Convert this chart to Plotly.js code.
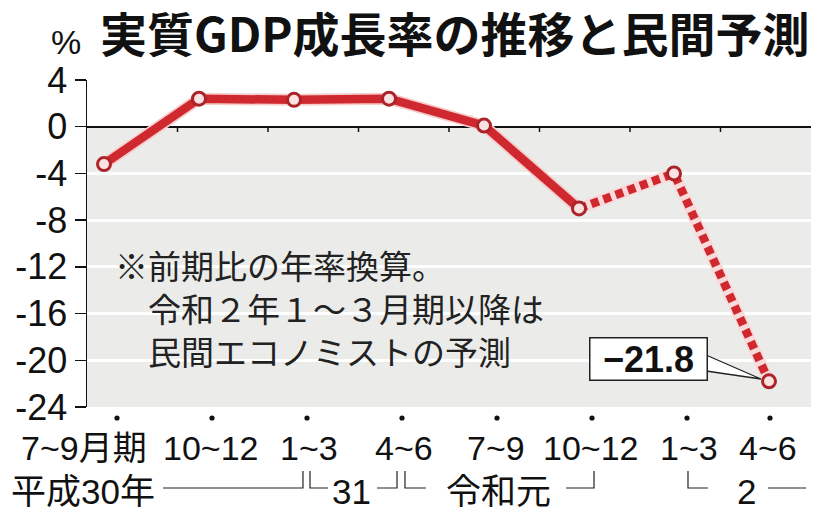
<!DOCTYPE html>
<html><head><meta charset="utf-8">
<script src="https://cdn.plot.ly/plotly-3.0.1.min.js"></script>
<style>html,body{margin:0;padding:0;background:#fff}</style>
</head><body><div id="chart" style="width:831px;height:515px"></div>
<script>
// ---- data ----
const quarters = ['2018Q3','2018Q4','2019Q1','2019Q2','2019Q3','2019Q4','2020Q1','2020Q2'];
const quarterLabels = ['7~9月期','10~12','1~3','4~6','7~9','10~12','1~3','4~6'];
const actualGrowth = [-3.2, 2.4, 2.3, 2.4, 0.1, -7.0, null, null];
const forecastGrowth = [null, null, null, null, null, -7.0, -4.0, -21.8];
const eraLabels = ['平成30年','31','令和元','2'];
const yTickVals = [4, 0, -4, -8, -12, -16, -20, -24];
const yTickText = ['4', '0', '-4', '-8', '-12', '-16', '-20', '-24'];
const calloutText = '−21.8';
const titleText = '実質GDP成長率の推移と民間予測';
const unitText = '%';
const noteText = '※前期比の年率換算。<br>　令和２年１～３月期以降は<br>　民間エコノミストの予測';

// ---- layout geometry (pixels) ----
const W = 831, H = 515, L = 87, R = 811, T = 80, B = 407;
const px = x => (x - L) / (R - L);
const py = y => (B - y) / (B - T);
const pathOf = pts => pts.map((p, i) => (i ? 'L' : 'M') + px(p[0]).toFixed(4) + ',' + py(p[1]).toFixed(4)).join(' ');

const dotShift = [13, 13, 13, 13, 13, 13, 13, 1];
const labelShift = [-20, 12, 15, 15, 12, 12, 15, -1];
const eraX = [83, 351, 498, 746];
const bracketPaths = [
  [[163,488],[303,488],[303,471]],
  [[310,471],[310,488],[328,488]],
  [[377,488],[397,488],[397,471]],
  [[405,471],[405,488],[426,488]],
  [[566,488],[594,488],[594,471]],
  [[688,471],[688,488],[708,488]],
  [[768,488],[806,488]]
];

const RED = '#cf282e';
const markerValues = actualGrowth.map((v, i) => v !== null ? v : forecastGrowth[i]);

const traces = [
  {x: quarters, y: actualGrowth, mode: 'lines', line: {color: '#f6cccc', width: 12}, hoverinfo: 'skip'},
  {x: quarters, y: forecastGrowth, mode: 'lines', line: {color: '#f8dada', width: 12}, hoverinfo: 'skip'},
  {x: quarters, y: actualGrowth, mode: 'lines', line: {color: RED, width: 8.5}, hoverinfo: 'skip'},
  {x: quarters, y: forecastGrowth, mode: 'lines', line: {color: RED, width: 8.5, dash: '8px,5px'}, hoverinfo: 'skip'},
  {x: quarters, y: markerValues, mode: 'markers', hoverinfo: 'skip',
   marker: {symbol: 'circle', size: 13, color: '#fbe2e2', line: {color: '#ad232a', width: 3}}}
];

const shapes = [
  {type: 'rect', xref: 'paper', yref: 'y', x0: 0, x1: 1, y0: 0, y1: -24,
   fillcolor: '#ebecea', line: {width: 0}, layer: 'below'}
];
for (let k = 1; k < 8; k++) {
  shapes.push({type: 'line', xref: 'paper', yref: 'y', x0: k / 8, x1: k / 8, y0: 0, y1: -0.45,
    line: {color: '#111', width: 1.5}, layer: 'between'});
}
quarters.forEach((q, i) => shapes.push({type: 'circle', xref: 'x', xsizemode: 'pixel', xanchor: i,
  x0: dotShift[i] - 2.6, x1: dotShift[i] + 2.6, yref: 'paper', ysizemode: 'pixel', yanchor: py(418),
  y0: -2.6, y1: 2.6, fillcolor: '#111', line: {width: 0}, layer: 'above'}));
bracketPaths.forEach(p => shapes.push({type: 'path', xref: 'paper', yref: 'paper', path: pathOf(p),
  line: {color: '#222', width: 1.2}, layer: 'above'}));
shapes.push({type: 'path', xref: 'paper', yref: 'paper',
  path: pathOf([[706,355],[761,379],[706,371]]), fillcolor: '#ffffff',
  line: {color: '#222', width: 1.3}, layer: 'above'});

const LAT = 'Liberation Sans, Arial, Noto Sans CJK JP, sans-serif';
const annotations = [];
quarters.forEach((q, i) => {
  annotations.push({x: q, xref: 'x', y: py(448), yref: 'paper', text: quarterLabels[i], showarrow: false,
    xshift: labelShift[i], yanchor: 'middle', font: {family: LAT, size: 34, color: '#111'}});
});
eraLabels.forEach((t, i) => annotations.push({x: px(eraX[i]), xref: 'paper', y: py(491), yref: 'paper',
  text: t, showarrow: false, xanchor: 'center', yanchor: 'middle', font: {family: LAT, size: 35, color: '#111'}}));
annotations.push({x: px(66), xref: 'paper', y: py(42), yref: 'paper', text: unitText, showarrow: false,
  xanchor: 'center', yanchor: 'middle', font: {family: LAT, size: 34, color: '#111'}});
annotations.push({x: px(113), xref: 'paper', y: py(308), yref: 'paper', text: noteText, showarrow: false,
  xanchor: 'left', yanchor: 'middle', align: 'left', font: {family: 'Noto Sans CJK JP, sans-serif', size: 33, color: '#222'}});
annotations.push({x: px(648), xref: 'paper', y: py(358.5), yref: 'paper', text: '<b>' + calloutText + '</b>',
  showarrow: false, xanchor: 'center', yanchor: 'middle', bgcolor: '#ffffff', bordercolor: '#222',
  borderwidth: 1.5, borderpad: 2, width: 112, height: 37, font: {family: LAT, size: 36, color: '#111'}});

const layout = {
  width: W, height: H,
  margin: {l: L, r: W - R, t: T, b: H - B},
  paper_bgcolor: '#ffffff', plot_bgcolor: 'rgba(0,0,0,0)',
  showlegend: false, hovermode: false,
  title: {text: '<b>' + titleText + '</b>', xref: 'paper', x: px(100), xanchor: 'left',
    yref: 'container', y: 1 - 36 / H, yanchor: 'middle',
    font: {family: 'Noto Sans CJK JP, sans-serif', size: 47, color: '#111'}},
  xaxis: {type: 'category', range: [-0.179, 7.442], showgrid: false, zeroline: false, showline: false,
    showticklabels: false, ticks: '', fixedrange: true},
  yaxis: {range: [-24, 4], tickvals: yTickVals, ticktext: yTickText, ticks: 'outside', ticklen: 11,
    tickwidth: 1.5, tickcolor: '#111', showline: true, linecolor: '#111', linewidth: 1.5,
    showgrid: true, gridcolor: '#ffffff', gridwidth: 3, zeroline: true, zerolinecolor: '#111',
    zerolinewidth: 2, tickfont: {family: LAT, size: 36, color: '#111'}, fixedrange: true},
  shapes: shapes,
  annotations: annotations
};

Plotly.newPlot('chart', traces, layout, {staticPlot: true, displayModeBar: false});
</script>
</body></html>
